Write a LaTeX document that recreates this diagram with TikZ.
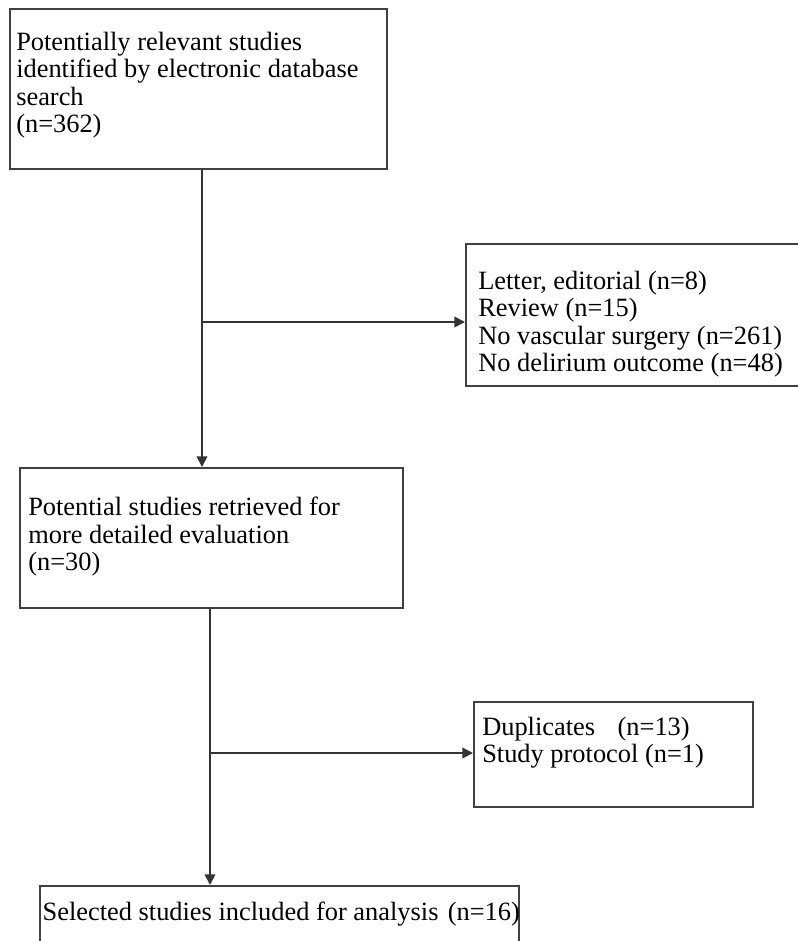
\documentclass[tikz,border=0pt]{standalone}
\usepackage{fontspec}
\setmainfont{Liberation Serif}
\usetikzlibrary{positioning,arrows.meta}
\begin{document}
\begin{tikzpicture}[x=0.75pt,y=-0.75pt,
  box/.style={draw=black!75,line width=1.5pt,anchor=north west,inner sep=0pt},
  txt/.style={align=left,inner sep=0pt,font=\fontsize{19.8pt}{20.5pt}\selectfont},
  arr/.style={draw=black!80,line width=1.3pt,-{Triangle[length=8pt,width=8pt]}}]
\useasboundingbox (0,0) rectangle (797,941);

\node[box,minimum width=282.75pt,minimum height=120pt] (search) at (9,8) {};
\node[txt,below right=18pt and 5.25pt of search.north west] (searchtxt)
  {Potentially relevant studies\\identified by electronic database\\search\\(n=362)};

\node[box,minimum width=255pt,minimum height=106.5pt] (excl1) at (465,243) {};
\node[txt,below right=21pt and 9.75pt of excl1.north west] (excl1txt)
  {Letter, editorial (n=8)\\Review (n=15)\\No vascular surgery (n=261)\\No delirium outcome (n=48)};

\node[box,minimum width=287.25pt,minimum height=105pt] (retr) at (19,467) {};
\node[txt,below right=22.5pt and 6.75pt of retr.north west] (retrtxt)
  {Potential studies retrieved for\\more detailed evaluation\\(n=30)};

\node[box,minimum width=209.25pt,minimum height=78.75pt] (excl2) at (473,701) {};
\node[txt,below right=12pt and 6.75pt of excl2.north west] (excl2txt)
  {Duplicates\hspace{0.6em} (n=13)\\Study protocol (n=1)};

\node[box,minimum width=359.25pt,minimum height=56.25pt] (incl) at (39,885) {};
\node[txt,below right=12.7pt and 2.5pt of incl.north west] (incltxt)
  {Selected studies included for analysis\hspace{0.1em} (n=16)};

\coordinate (j1) at (202,322);
\coordinate (j2) at (210,753);
\draw[arr] (search.south -| j1) -- (retr.north -| j1);
\draw[arr] (j1) -- (excl1.west |- j1);
\draw[arr] (retr.south -| j2) -- (incl.north -| j2);
\draw[arr] (j2) -- (excl2.west |- j2);
\end{tikzpicture}
\end{document}
